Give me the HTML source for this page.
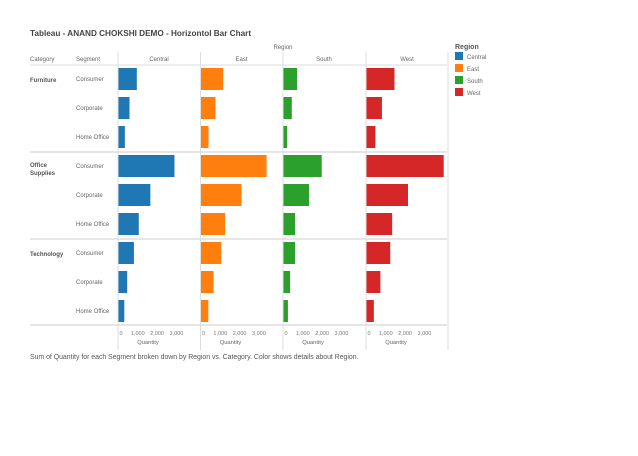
<!DOCTYPE html>
<html><head><meta charset="utf-8"><style>
body{margin:0;background:#fff;font-family:"Liberation Sans",sans-serif;}
svg text{font-family:"Liberation Sans",sans-serif;}
</style></head><body>
<svg id="c" width="638" height="451">
<text x="30" y="36" font-size="8.2" font-weight="bold" fill="#444">Tableau - ANAND CHOKSHI DEMO - Horizontol Bar Chart</text>
<text x="283" y="49" font-size="6" fill="#666" text-anchor="middle">Region</text>
<text x="30" y="61" font-size="6" fill="#666">Category</text>
<text x="76" y="61" font-size="6" fill="#666">Segment</text>
<text x="30" y="359" font-size="6.9" fill="#555">Sum of Quantity for each Segment broken down by Region vs. Category.  Color shows details about Region.</text>
<g id="legend">
<text x="455" y="49" font-size="7" font-weight="bold" fill="#555">Region</text>
</g>
<g id="plot"></g>
</svg>
<script>
const regions=["Central","East","South","West"];
const colors=["#1f77b4","#ff7f0e","#2ca02c","#d62728"];
const categories=["Furniture","Office Supplies","Technology"];
const segments=["Consumer","Corporate","Home Office"];
const centralVals=[950,570,330,2900,1650,1050,800,450,300];
const eastVals=[1150,750,390,3400,2100,1250,1050,650,380];
const southVals=[700,430,190,1980,1320,600,600,340,230];
const westVals=[1450,800,460,4000,2150,1330,1230,720,380];
const tickVals=[0,1000,2000,3000];
const tickLabels=["0","1,000","2,000","3,000"];
const series=[centralVals,eastVals,southVals,westVals];
const NS="http://www.w3.org/2000/svg";
const plot=document.getElementById('plot');
const legend=document.getElementById('legend');
function mk(tag,attrs,parent,txt){const e=document.createElementNS(NS,tag);for(const k in attrs)e.setAttribute(k,attrs[k]);if(txt!=null)e.textContent=txt;(parent||plot).appendChild(e);return e;}
const panelX=[118,200.5,283,366],panelW=82;
const xs=(p,v)=>panelX[p]+0.5+v*0.0193;
const rowY=i=>79+i*29;
let l;
l=mk('line',{x1:30,x2:447,y1:65,y2:65,stroke:"#ddd"});
[152,239,325].forEach((y,i)=>{l=mk('line',{x1:30,x2:447,y1:y,y2:y,stroke:"#ccc"});});
panelX.concat([448]).forEach(x=>{l=mk('line',{x1:x,x2:x,y1:52,y2:350,stroke:"#ddd"});});
regions.forEach((r,p)=>{
 let t=mk('text',{x:panelX[p]+panelW/2,y:61,"font-size":6,fill:"#666","text-anchor":"middle"},plot,r);
 
 tickVals.forEach((v,k)=>{
  let tt=mk('text',{x:k==0?xs(p,v)+1:xs(p,v),y:335,"font-size":5.5,fill:"#777","text-anchor":k==0?"start":"middle"},plot,tickLabels[k]);
  
 });
 let q=mk('text',{x:panelX[p]+30,y:344,"font-size":5.8,fill:"#666","text-anchor":"middle"},plot,"Quantity");
 
 series[p].forEach((v,i)=>{
  let b=mk('rect',{x:panelX[p]+0.5,y:rowY(i)-11,width:xs(p,v)-panelX[p]-0.5,height:22,fill:colors[p]});
  
 });
 let s=mk('rect',{x:455,y:52+p*12,width:8,height:8,fill:colors[p]},legend);
 
 let lt=mk('text',{x:467,y:59+p*12,"font-size":6,fill:"#666"},legend,r);
 
});
categories.forEach((c,g)=>{
 const y=rowY(g*3)+3;
 let t;
 if(c==="Office Supplies"){
  t=mk('text',{x:30,y:y-2,"font-size":6,"font-weight":"bold",fill:"#555"},plot,"Office");
  
  t=mk('text',{x:30,y:y+6,"font-size":6,"font-weight":"bold",fill:"#555"},plot,"Supplies");
 } else t=mk('text',{x:30,y:y,"font-size":6,"font-weight":"bold",fill:"#555"},plot,c);
 
 segments.forEach((s,k)=>{
  let st=mk('text',{x:76,y:rowY(g*3+k)+2,"font-size":6,fill:"#666"},plot,s);
  
 });
});
</script>
</body></html>
